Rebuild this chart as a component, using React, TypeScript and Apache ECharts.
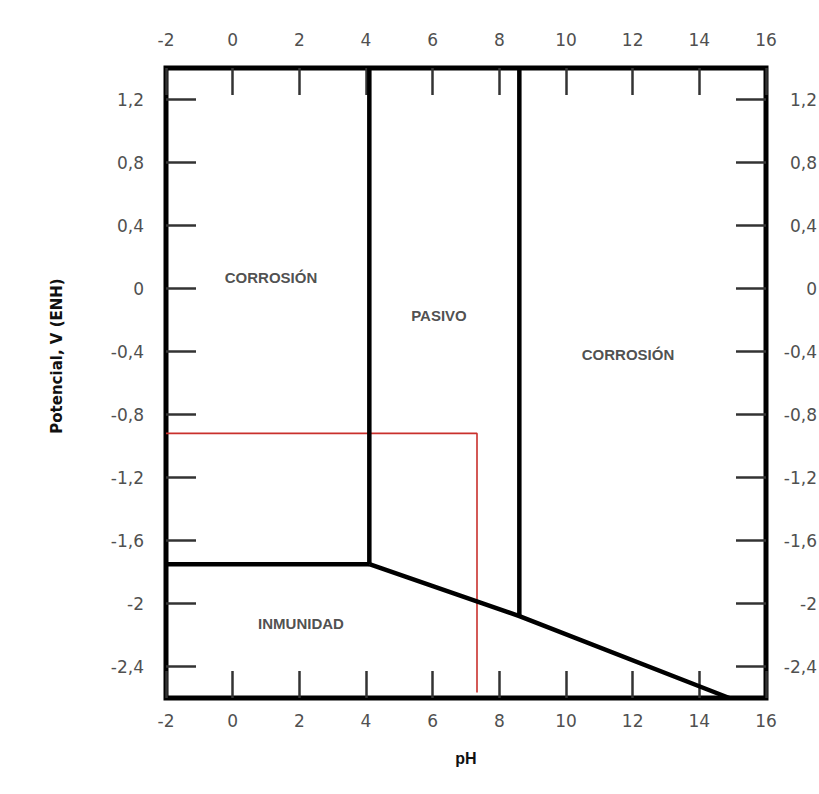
import React, { useEffect, useRef } from "react";
import * as echarts from "echarts";

// Axis ranges and ticks
const phRange = [-2, 16];
const phInterval = 2;
const potentialRange = [-2.6, 1.4];
const potentialTicks = [-2.4, -2, -1.6, -1.2, -0.8, -0.4, 0, 0.4, 0.8, 1.2];

// Boundaries of the Pourbaix diagram (pH, V)
const immunityBoundary = [
  [-2, -1.75],
  [4.1, -1.75],
];
const passiveLeftBoundary = [
  [4.1, 1.4],
  [4.1, -1.75],
];
const passiveRightBoundary = [
  [8.6, 1.4],
  [8.6, -2.08],
];
const lowerBoundary = [
  [4.1, -1.75],
  [8.6, -2.08],
  [14.9, -2.6],
];
const redMarker = [
  [-2, -0.92],
  [7.33, -0.92],
  [7.33, -2.565],
];

// Region labels
const regionNames = ["CORROSIÓN", "PASIVO", "CORROSIÓN", "INMUNIDAD"];
const regionPH = [1.15, 6.19, 11.86, 2.05];
const regionV = [0.07, -0.17, -0.42, -2.13];

const tickFont = "DejaVu Sans";
const fmt = (v: number) => String(Math.round(v * 10) / 10).replace(".", ",");

export default function App() {
  const ref = useRef<HTMLDivElement>(null);

  useEffect(() => {
    if (!ref.current) return;
    const chart = echarts.init(ref.current, null, { renderer: "svg" });

    const xAxisBase = {
      type: "value",
      min: phRange[0],
      max: phRange[1],
      interval: phInterval,
      axisLine: { show: false, onZero: false },
      splitLine: { show: false },
      axisTick: { show: true, inside: true, length: 27, lineStyle: { color: "#333", width: 2.5 } },
    };
    const yAxisBase = {
      type: "value",
      min: potentialRange[0],
      max: potentialRange[1],
      axisLine: { show: false, onZero: false },
      splitLine: { show: false },
      axisTick: {
        show: true,
        inside: true,
        length: 30,
        customValues: potentialTicks,
        lineStyle: { color: "#333", width: 2.5 },
      },
    };

    const blackLine = (data: number[][]) => ({
      type: "line",
      data,
      symbol: "none",
      z: 5,
      lineStyle: { color: "#000", width: 4.5 },
      silent: true,
    });

    chart.setOption({
      animation: false,
      backgroundColor: "#ffffff",
      grid: {
        left: 166,
        right: 53,
        top: 68,
        bottom: 96,
        show: true,
        borderColor: "#000",
        borderWidth: 5,
        backgroundColor: "transparent",
        outerBoundsMode: "none",
        containLabel: false,
      },
      xAxis: [
        {
          ...xAxisBase,
          position: "bottom",
          name: "pH",
          nameLocation: "middle",
          nameGap: 52,
          nameTextStyle: { fontFamily: "Liberation Sans", fontWeight: "bold", fontSize: 16, color: "#111" },
          axisLabel: { margin: 14, fontFamily: tickFont, fontSize: 17, color: "#505050", formatter: fmt },
        },
        {
          ...xAxisBase,
          position: "top",
          axisLabel: { margin: 20, fontFamily: tickFont, fontSize: 17, color: "#505050", formatter: fmt },
        },
      ],
      yAxis: [
        {
          ...yAxisBase,
          position: "left",
          name: "Potencial, V (ENH)",
          nameLocation: "middle",
          nameGap: 102,
          nameTextStyle: {
            fontFamily: "DejaVu Sans",
            fontWeight: "bold",
            fontSize: 15,
            color: "#111",
            padding: [0, 0, 0, 54],
          },
          axisLabel: {
            margin: 22,
            fontFamily: tickFont,
            fontSize: 17,
            color: "#505050",
            customValues: potentialTicks,
            formatter: fmt,
          },
        },
        {
          ...yAxisBase,
          position: "right",
          axisLabel: {
            margin: 51,
            align: "right",
            fontFamily: tickFont,
            fontSize: 17,
            color: "#505050",
            customValues: potentialTicks,
            formatter: fmt,
          },
        },
      ],
      series: [
        {
          type: "line",
          data: redMarker,
          symbol: "none",
          z: 3,
          lineStyle: { color: "#c9302c", width: 1.6 },
          silent: true,
        },
        blackLine(immunityBoundary),
        blackLine(passiveLeftBoundary),
        blackLine(passiveRightBoundary),
        blackLine(lowerBoundary),
        {
          type: "scatter",
          symbolSize: 0.1,
          itemStyle: { color: "rgba(0,0,0,0)" },
          z: 6,
          silent: true,
          data: regionNames.map((n, i) => ({ name: n, value: [regionPH[i], regionV[i]] })),
          label: {
            show: true,
            position: "inside",
            formatter: (p: any) => p.name,
            fontFamily: "Liberation Sans",
            fontWeight: "bold",
            fontSize: 15,
            color: "#222",
          },
        },
      ],
    });

    return () => chart.dispose();
  }, []);

  return (
    <div
      ref={ref}
      style={{ position: "absolute", left: 0, top: 0, width: 819, height: 794, background: "#fff" }}
    />
  );
}
